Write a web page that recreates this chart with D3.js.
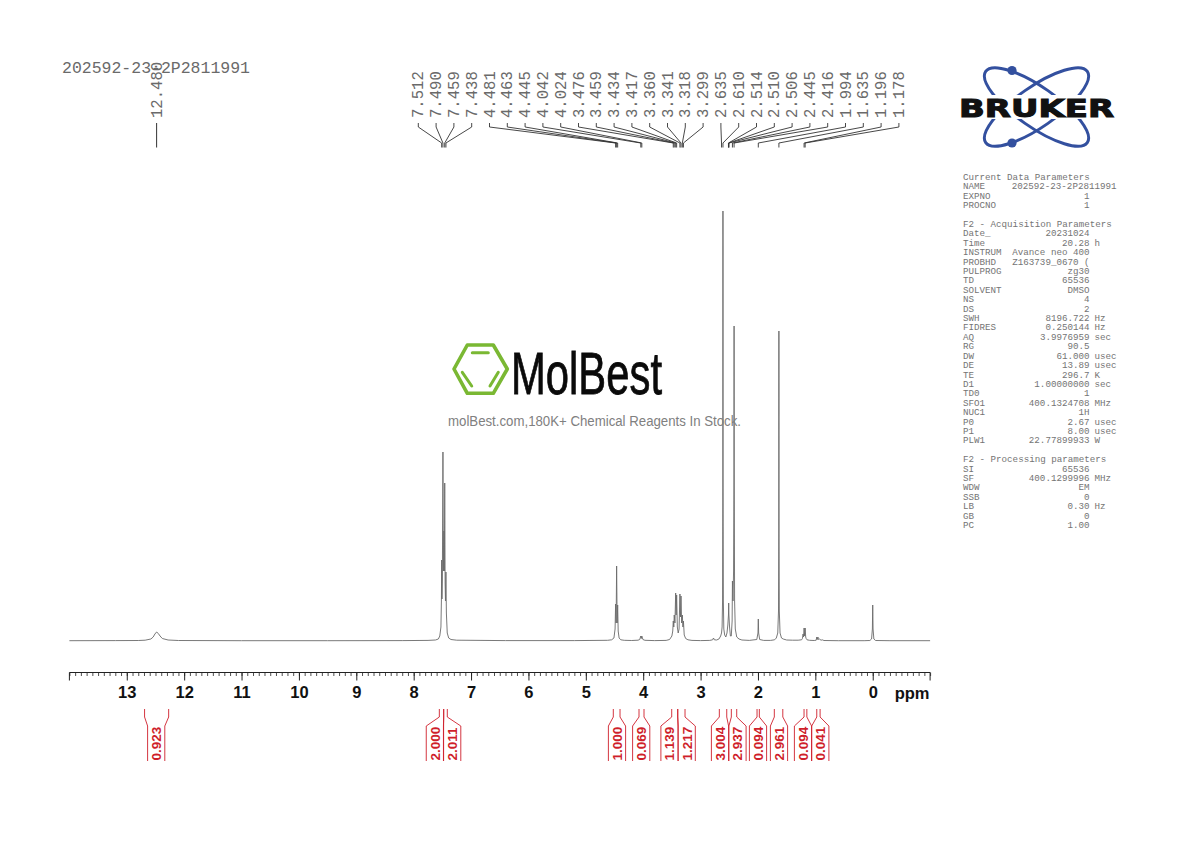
<!DOCTYPE html>
<html>
<head>
  <meta charset="utf-8">
  <script src="https://cdn.jsdelivr.net/npm/d3@7/dist/d3.min.js"></script>
  <style>
  html, body { margin: 0; padding: 0; background: #fff; }
  svg { display: block; }
  .mono { font-family: "Liberation Mono", monospace; }
  </style>
</head>
<body>
<script>
// title of the experiment
var sampleName = "202592-23-2P2811991";

// spectrum: ppm and peak height, point by point
var spectrumPpm = [
  14, 13.2, 12.8, 12.68, 12.58, 12.54, 12.51, 12.48, 12.45, 12.42, 12.38, 12.28, 12.1, 11, 9.5, 8.2, 7.75,
  7.62, 7.57, 7.545, 7.525, 7.517, 7.512, 7.507, 7.5, 7.49, 7.482, 7.473, 7.465, 7.459, 7.452, 7.446, 7.438, 7.43, 7.415, 7.39, 7.35, 7.25, 6.4, 5.2,
  4.62, 4.55, 4.51, 4.49, 4.481, 4.472, 4.463, 4.454, 4.445, 4.436, 4.42, 4.39, 4.33, 4.2,
  4.09, 4.06, 4.042, 4.033, 4.024, 4.005, 3.97, 3.8, 3.6,
  3.54, 3.5, 3.485, 3.476, 3.467, 3.459, 3.447, 3.434, 3.426, 3.417, 3.405, 3.39, 3.375, 3.36, 3.35, 3.341, 3.33, 3.318, 3.308, 3.299, 3.285, 3.26, 3.22, 3.15, 3.0,
  2.84, 2.79, 2.775, 2.76, 2.72, 2.68, 2.65, 2.635, 2.625, 2.617, 2.612, 2.61, 2.608, 2.603, 2.595, 2.58, 2.56, 2.54,
  2.525, 2.514, 2.512, 2.51, 2.508, 2.506, 2.495, 2.48, 2.465, 2.45, 2.445, 2.435, 2.425, 2.419, 2.416, 2.413, 2.407, 2.395, 2.37, 2.33, 2.28, 2.15,
  2.02, 2.0, 1.994, 1.988, 1.97, 1.9, 1.78,
  1.71, 1.68, 1.655, 1.642, 1.637, 1.635, 1.633, 1.628, 1.615, 1.59, 1.56, 1.5, 1.4, 1.3,
  1.24, 1.225, 1.214, 1.205, 1.196, 1.187, 1.178, 1.168, 1.16, 1.145, 1.1, 1.02,
  0.985, 0.975, 0.965, 0.955, 0.945, 0.93, 0.9, 0.88, 0.85, 0.6, 0.15,
  0.05, 0.02, 0.006, 0, -0.006, -0.02, -0.05, -0.3, -1
];
var spectrumHeight = [
  0.3, 0.4, 0.5, 0.8, 2, 4, 7, 9, 7.5, 5, 2.5, 1, 0.5, 0.3, 0.3, 0.4, 0.6,
  1, 2, 5, 14, 40, 81, 42, 62, 189, 70, 110, 70, 158, 58, 40, 69, 28, 8, 3, 1.5, 0.8, 0.4, 0.4,
  0.7, 1.2, 3, 12, 37, 18, 75, 18, 36, 10, 3, 1.2, 0.7, 0.5,
  0.8, 1.5, 5, 2.5, 5, 1.5, 0.7, 0.4, 0.6,
  1.5, 5, 10, 20, 14, 26, 18, 48, 26, 46, 14, 8, 12, 47, 24, 45, 18, 26, 14, 20, 6, 2.5, 1.2, 0.6, 0.4,
  0.6, 1.2, 3, 1.2, 1, 2, 5, 8, 14, 40, 160, 430, 160, 40, 12, 6, 4, 8,
  16, 26, 30, 38, 30, 26, 14, 5, 5, 20, 60, 40, 70, 160, 315, 160, 40, 12, 4, 2, 1, 0.6,
  1.5, 8, 22, 8, 1.5, 0.6, 0.6,
  1.2, 3, 8, 30, 110, 310, 110, 30, 8, 3, 2, 1, 0.8, 0.8,
  1.2, 2.5, 7, 4, 13, 5, 13, 4, 2.5, 1.2, 0.7, 0.5,
  0.8, 4, 1.5, 4, 1.5, 2, 0.8, 1.2, 0.5, 0.3, 0.3,
  0.5, 2, 12, 36, 12, 2, 0.5, 0.3, 0.3
];

// picked peaks written above the spectrum
var peakPpm = ["7.512", "7.490", "7.459", "7.438", "4.481", "4.463", "4.445", "4.042", "4.024",
  "3.476", "3.459", "3.434", "3.417", "3.360", "3.341", "3.318", "3.299",
  "2.635", "2.610", "2.514", "2.510", "2.506", "2.445", "2.416", "1.994", "1.635", "1.196", "1.178"];
var lonePeak = "12.480";

// integrals: value and limits in ppm
var integralValues = ["0.923", "2.000", "2.011", "1.000", "0.069", "1.139", "1.217", "3.004", "2.937", "0.094", "2.961", "0.094", "0.041"];
var integralFrom = [12.69, 7.553, 7.477, 4.521, 4.073, 3.503, 3.398, 2.673, 2.464, 2.016, 1.715, 1.197, 0.975];
var integralTo = [12.27, 7.477, 7.414, 4.404, 3.986, 3.398, 3.271, 2.544, 2.370, 1.976, 1.567, 1.148, 0.917];

// parameter block at the right
var paramLabels = ["Current Data Parameters", "NAME", "EXPNO", "PROCNO", "",
  "F2 - Acquisition Parameters", "Date_", "Time", "INSTRUM", "PROBHD", "PULPROG", "TD", "SOLVENT", "NS", "DS",
  "SWH", "FIDRES", "AQ", "RG", "DW", "DE", "TE", "D1", "TD0", "SFO1", "NUC1", "P0", "P1", "PLW1", "",
  "F2 - Processing parameters", "SI", "SF", "WDW", "SSB", "LB", "GB", "PC"];
var paramValues = ["", sampleName, "1", "1", "",
  "", "20231024", "20.28", "Avance neo 400", "Z163739_0670 (", "zg30", "65536", "DMSO", "4", "2",
  "8196.722", "0.250144", "3.9976959", "90.5", "61.000", "13.89", "296.7", "1.00000000", "1", "400.1324708", "1H", "2.67", "8.00", "22.77899933", "",
  "", "65536", "400.1299996", "EM", "0", "0.30", "0", "1.00"];
var paramUnits = ["", "", "", "", "",
  "", "", "h", "", "", "", "", "", "", "",
  "Hz", "Hz", "sec", "", "usec", "usec", "K", "sec", "", "MHz", "", "usec", "usec", "W", "",
  "", "", "MHz", "", "", "Hz", "", ""];

var width = 1190, height = 842;
var baseY = 641, axisY = 672.5;
var textGrey = "#6a6a6a", red = "#cf1f2b";

var svg = d3.select("body").append("svg")
  .attr("width", width)
  .attr("height", height);

var x = d3.scaleLinear().domain([14, -1]).range([69.4, 930.1]);
var y = d3.scaleLinear().domain([0, 430]).range([baseY, 211]);

// spectrum
var line = d3.line()
  .x(function(d) { return x(d); })
  .y(function(d, i) { return y(spectrumHeight[i]); });

svg.append("path")
  .attr("d", line(spectrumPpm))
  .attr("fill", "none")
  .attr("stroke", "#6a6a6a")
  .attr("stroke-width", 0.9);

// ppm axis, minor ticks first
var minorTicks = d3.range(-10, 141).map(function(d) { return d / 10; });
svg.append("g")
  .attr("transform", "translate(0," + axisY + ")")
  .call(d3.axisBottom(x).tickValues(minorTicks).tickSize(3.5).tickFormat(""))
  .call(function(g) {
    g.select(".domain").attr("stroke", "#222").attr("d", "M" + x.range()[0] + ",8V0H" + x.range()[1] + "V8");
    g.selectAll(".tick line").attr("stroke", "#222").attr("stroke-width", 0.8);
  });

var majorAxis = svg.append("g")
  .attr("transform", "translate(0," + axisY + ")")
  .call(d3.axisBottom(x).tickValues(d3.range(0, 14)).tickSize(8).tickSizeOuter(0).tickPadding(6).tickFormat(d3.format("d")));
majorAxis.select(".domain").remove();
majorAxis.selectAll(".tick line").attr("stroke", "#222").attr("stroke-width", 1);
majorAxis.selectAll(".tick text")
  .attr("fill", "#111")
  .style("font", "bold 16.5px 'Liberation Sans', Arial, sans-serif");

svg.append("text")
  .attr("x", 929.5).attr("y", 698.5)
  .attr("text-anchor", "end")
  .attr("fill", "#111")
  .style("font", "bold 16.5px 'Liberation Sans', Arial, sans-serif")
  .text("ppm");

// sample name
svg.append("text").attr("class", "mono")
  .attr("x", 62).attr("y", 73)
  .attr("fill", textGrey)
  .attr("font-size", 16.5)
  .attr("textLength", 188)
  .text(sampleName);

// peak labels and their connectors
function peakLabel(text, labelX) {
  svg.append("text").attr("class", "mono")
    .attr("transform", "translate(" + (labelX + 5) + ",118) rotate(-90)")
    .attr("fill", textGrey)
    .attr("font-size", 15.6)
    .text(text);
}

peakLabel(lonePeak, x(+lonePeak));
svg.append("line")
  .attr("x1", x(+lonePeak)).attr("x2", x(+lonePeak))
  .attr("y1", 123).attr("y2", 147.5)
  .attr("stroke", "#333").attr("stroke-width", 1);

var labelStep = 17.8, firstLabelX = 418.3;
peakPpm.forEach(function(p, i) {
  var lx = firstLabelX + i * labelStep;
  peakLabel(p, lx);
  svg.append("path")
    .attr("d", "M" + lx + ",123V127L" + x(+p) + ",143V147.5")
    .attr("fill", "none")
    .attr("stroke", "#333")
    .attr("stroke-width", 0.9);
});

// integral brackets, label boxes are spread out so the numbers do not collide
var boxCentre = [156.2, 434.85, 452.2, 617, 641.2, 669.5, 686.7, 720, 737.5, 758, 779, 803, 820.3];
var boxHalf = 8.6;
integralValues.forEach(function(v, i) {
  var a = x(integralFrom[i]), b = x(integralTo[i]);
  var c = boxCentre[i];
  var g = svg.append("g");
  g.append("path")
    .attr("d", "M" + a + ",709V717L" + (c - boxHalf) + ",726V761"
      + "M" + b + ",709V717L" + (c + boxHalf) + ",726V761")
    .attr("fill", "none")
    .attr("stroke", red)
    .attr("stroke-width", 0.9);
  g.append("text")
    .attr("transform", "translate(" + (c + 4.8) + ",760.5) rotate(-90)")
    .attr("fill", red)
    .style("font", "bold 13.5px 'Liberation Sans', Arial, sans-serif")
    .text(v);
});

// parameter block
var rowY = d3.scaleLinear().domain([0, 37]).range([180, 528]);
var params = svg.append("g").attr("class", "mono").attr("font-size", 9.2).attr("fill", "#747474");
paramLabels.forEach(function(label, i) {
  params.append("text").attr("x", 963).attr("y", rowY(i)).text(label);
  if (paramValues[i]) {
    params.append("text").attr("x", i === 1 ? 1116.5 : 1089.5).attr("y", rowY(i))
      .attr("text-anchor", "end").text(paramValues[i]);
  }
  if (paramUnits[i]) {
    params.append("text").attr("x", 1094.5).attr("y", rowY(i)).text(paramUnits[i]);
  }
});

// Bruker logo
var bruker = svg.append("g");
[35, -35].forEach(function(angle) {
  bruker.append("ellipse")
    .attr("cx", 1036.5).attr("cy", 107)
    .attr("rx", 62).attr("ry", 20)
    .attr("transform", "rotate(" + angle + " 1036.5 107)")
    .attr("fill", "none")
    .attr("stroke", "#33509f")
    .attr("stroke-width", 3);
});
[70.5, 143].forEach(function(cy) {
  bruker.append("circle").attr("cx", 1012).attr("cy", cy).attr("r", 4.6).attr("fill", "#33509f");
});
bruker.append("rect").attr("x", 955).attr("y", 95).attr("width", 163).attr("height", 24).attr("fill", "#fff");
bruker.append("text")
  .attr("x", 959).attr("y", 116.5)
  .attr("textLength", 155)
  .attr("lengthAdjust", "spacingAndGlyphs")
  .attr("fill", "#111")
  .attr("stroke", "#111")
  .attr("stroke-width", 1.1)
  .style("font", "bold 25.5px 'DejaVu Sans', sans-serif")
  .text("BRUKER");

// MolBest watermark
var green = "#7ab833";
var mark = svg.append("g");
mark.append("path")
  .attr("d", "M454,369L467.3,345H493.3L507.3,369L493.3,393.3H467.3Z")
  .attr("fill", "none")
  .attr("stroke", green)
  .attr("stroke-width", 3.6)
  .attr("stroke-linejoin", "round");
mark.append("path")
  .attr("d", "M472.3,352.7H488.3M462.3,372.3L471.7,386M498.3,372.3L490,386")
  .attr("fill", "none")
  .attr("stroke", green)
  .attr("stroke-width", 3)
  .attr("stroke-linecap", "round");
mark.append("text")
  .attr("x", 511).attr("y", 394)
  .attr("textLength", 151)
  .attr("lengthAdjust", "spacingAndGlyphs")
  .attr("fill", "#0a0a0a")
  .attr("stroke", "#0a0a0a")
  .attr("stroke-width", 0.8)
  .style("font", "59px 'Liberation Sans', Arial, sans-serif")
  .text("MolBest");
mark.append("text")
  .attr("x", 448).attr("y", 426)
  .attr("textLength", 293)
  .attr("lengthAdjust", "spacingAndGlyphs")
  .attr("fill", "#808080")
  .style("font", "14px 'Liberation Sans', Arial, sans-serif")
  .text("molBest.com,180K+ Chemical Reagents In Stock.");
</script>
</body>
</html>
